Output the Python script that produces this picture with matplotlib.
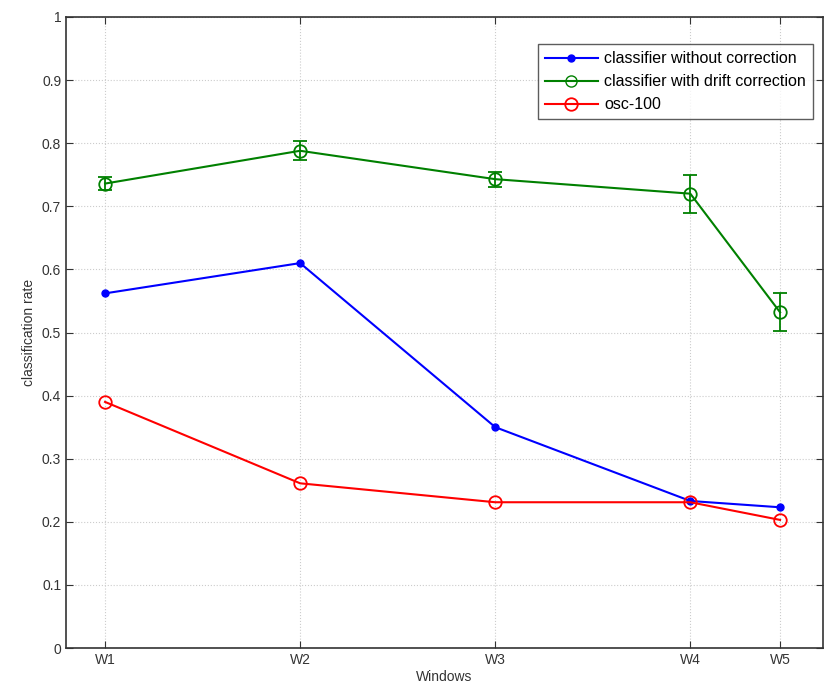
import matplotlib
matplotlib.use("Agg")
import matplotlib.pyplot as plt
from matplotlib.lines import Line2D

# windows (x positions as plotted, W5 sits closer to W4)
windows = ["W1", "W2", "W3", "W4", "W5"]
x_pos = [1, 2, 3, 4, 4.46]

no_corr = [0.562, 0.61, 0.35, 0.233, 0.223]
drift_corr = [0.736, 0.788, 0.743, 0.72, 0.532]
drift_err = [0.01, 0.015, 0.012, 0.03, 0.03]
osc100 = [0.39, 0.261, 0.231, 0.231, 0.203]

plt.rcParams["font.family"] = ["Liberation Sans", "DejaVu Sans"]

fig = plt.figure(figsize=(8.24, 6.98), dpi=100)
ax = fig.add_axes([66 / 824, 1 - 648 / 698, 757 / 824, 631 / 698])

ax.plot(x_pos, no_corr, color="blue", marker=".", markersize=10, lw=1.5)
ax.errorbar(x_pos, drift_corr, yerr=drift_err, color="green", marker="o",
            markersize=9, mfc="none", mew=1.3, lw=1.5, capsize=5, elinewidth=1.3)
ax.plot(x_pos, osc100, color="red", marker="o", markersize=9, mfc="none",
        mew=1.3, lw=1.5)

ax.set_xlim(0.8, 4.68)
ax.set_ylim(0, 1)
ax.set_xticks(x_pos)
ax.set_xticklabels(windows)
ax.set_yticks([i / 10 for i in range(11)])
ax.set_yticklabels(["0", "0.1", "0.2", "0.3", "0.4", "0.5", "0.6", "0.7",
                    "0.8", "0.9", "1"])
ax.tick_params(direction="in", length=5, labelsize=10, colors="#333333",
               top=True, right=True)
ax.grid(True, linestyle=":", color="#cccccc", lw=0.8)
for s in ax.spines.values():
    s.set_color("#333333")
    s.set_linewidth(1.2)

ax.set_xlabel("Windows", fontsize=10, color="#333333", labelpad=2)
ax.set_ylabel("classification rate", fontsize=10, color="#333333")

handles = [
    Line2D([], [], color="blue", marker=".", markersize=10, lw=1.5),
    Line2D([], [], color="green", marker="o", markersize=8, mfc="none", lw=1.5),
    Line2D([], [], color="red", marker="o", markersize=9, mfc="none", mew=1.3, lw=1.5),
]
labels = ["classifier without correction", "classifier with drift correction", "osc-100"]
leg = ax.legend(handles, labels, loc="upper right", bbox_to_anchor=(0.987, 0.957),
                fontsize=11.5, frameon=True, fancybox=False, edgecolor="#333333",
                borderaxespad=0, handlelength=3.3, labelspacing=0.5,
                borderpad=0.45, handletextpad=0.4)
leg.get_frame().set_linewidth(1.0)

fig.savefig("out.png", dpi=100)
